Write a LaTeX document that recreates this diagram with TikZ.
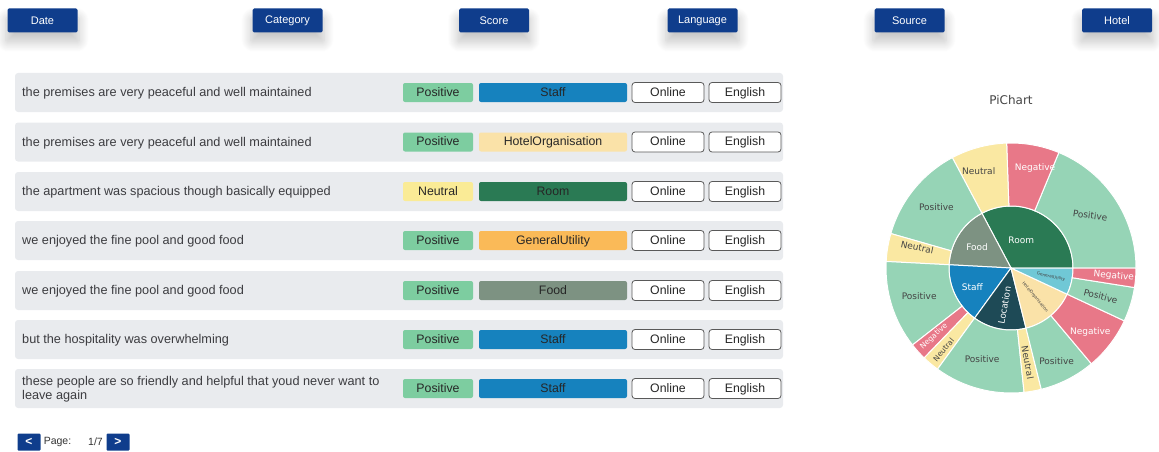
\documentclass[tikz,border=0pt]{standalone}
\usepackage{fontspec}
\setmainfont{Liberation Sans}
\newfontfamily\piefont{DejaVu Sans}
\usepackage{tikz}
\usetikzlibrary{positioning, shadows.blur}
\definecolor{navblue}{RGB}{15,61,140}
\definecolor{rowgray}{RGB}{233,235,238}
\definecolor{txtgray}{RGB}{60,60,64}
\definecolor{tagpos}{RGB}{125,205,160}
\definecolor{tagneu}{RGB}{250,235,150}
\definecolor{tagstaff}{RGB}{22,130,190}
\definecolor{taghotel}{RGB}{250,226,168}
\definecolor{tagroom}{RGB}{42,122,84}
\definecolor{tagutil}{RGB}{250,186,88}
\definecolor{tagfood}{RGB}{125,146,130}
\definecolor{piepos}{RGB}{150,212,182}
\definecolor{pieneg}{RGB}{232,120,136}
\definecolor{pieneu}{RGB}{250,232,162}
\definecolor{pieloc}{RGB}{30,74,86}
\definecolor{pieutil}{RGB}{112,200,214}
\definecolor{pietxt}{RGB}{68,68,68}

% ring slice: start, end, inner radius, outer radius, colour
\newcommand{\sunslice}[5]{%
  \fill[#5, draw=white, line width=1pt] (#1:#3pt) arc[start angle=#1, end angle=#2, radius=#3pt]
    -- (#2:#4pt) arc[start angle=#2, end angle=#1, radius=#4pt] -- cycle;}
% centre slice: start, end, radius, colour
\newcommand{\sunpie}[4]{%
  \fill[#4, draw=white, line width=1pt] (0,0) -- (#1:#3pt) arc[start angle=#1, end angle=#2, radius=#3pt] -- cycle;}

\begin{document}
\begin{tikzpicture}[
  x=1pt, y=-1pt,
  btn/.style={rectangle, rounded corners=1.5pt, fill=navblue, text=white,
              minimum width=70pt, minimum height=24pt, font=\fontsize{11}{13}\selectfont,
              blur shadow={shadow xshift=0pt, shadow yshift=-9pt, shadow scale=1.05,
                           shadow blur radius=9pt, shadow blur steps=12, shadow opacity=22}},
  rowbox/.style={rectangle, rounded corners=3pt, fill=rowgray, minimum width=768pt, minimum height=39pt},
  review/.style={anchor=west, text=txtgray, align=left, inner sep=0pt,
                 font=\fontsize{12.7}{14}\selectfont},
  tag/.style={rectangle, rounded corners=2pt, minimum height=19pt, text=black!85,
              text height=8pt, text depth=0.5pt, inner sep=0pt, font=\fontsize{12.3}{14}\selectfont},
  senti/.style={tag, minimum width=70pt},
  cat/.style={tag, minimum width=148pt},
  outl/.style={tag, rounded corners=3pt, draw=black!65, line width=0.8pt, fill=white,
               minimum width=72pt, minimum height=20pt},
  navbtn/.style={rectangle, rounded corners=1pt, fill=navblue, text=white, minimum width=23pt,
                 minimum height=17pt, inner sep=0pt, font=\fontsize{12}{14}\selectfont\bfseries},
  navtxt/.style={text=black!80, inner sep=0pt, font=\fontsize{10.5}{12}\selectfont},
  pielab/.style={text=pietxt, inner sep=0pt, font=\piefont\fontsize{9}{10}\selectfont},
  pielabw/.style={pielab, text=white},
  thinlab/.style={inner sep=0pt, font=\piefont\fontsize{7.5}{8}\selectfont},
  pietiny/.style={text=pietxt, inner sep=0pt, font=\piefont\fontsize{4.2}{5}\selectfont}
]
  \useasboundingbox (0,0) rectangle (1159,452);

  % filter buttons
  \node[btn] (date)     at (42.5,20.5)  {Date};
  \node[btn] (category) at (287.5,20.5) {Category};
  \node[btn] (score)    at (494,20.5)   {Score};
  \node[btn] (language) at (702.5,20.5) {Language};
  \node[btn] (source)   at (909.5,20.5) {Source};
  \node[btn] (hotel)    at (1117,20.5)  {Hotel};

  % review rows
  \node[rowbox] (row1) at (399,92.5)  {};
  \node[rowbox] (row2) at (399,142)   {};
  \node[rowbox] (row3) at (399,191.5) {};
  \node[rowbox] (row4) at (399,240.5) {};
  \node[rowbox] (row5) at (399,290.5) {};
  \node[rowbox] (row6) at (399,339.5) {};
  \node[rowbox] (row7) at (399,388.5) {};

  \node[review] (txt1) at (22,93.5)  {the premises are very peaceful and well maintained};
  \node[review] (txt2) at (22,143)   {the premises are very peaceful and well maintained};
  \node[review] (txt3) at (22,192.5) {the apartment was spacious though basically equipped};
  \node[review] (txt4) at (22,241.5) {we enjoyed the fine pool and good food};
  \node[review] (txt5) at (22,291.5) {we enjoyed the fine pool and good food};
  \node[review] (txt6) at (22,340.5) {but the hospitality was overwhelming};
  \node[review] (txt7) at (22,389)   {these people are so friendly and helpful that youd never want to\\leave again};

  \node[senti, fill=tagpos] (sen1) at (438,92.5)  {Positive};
  \node[senti, fill=tagpos] (sen2) at (438,142)   {Positive};
  \node[senti, fill=tagneu] (sen3) at (438,191.5) {Neutral};
  \node[senti, fill=tagpos] (sen4) at (438,240.5) {Positive};
  \node[senti, fill=tagpos] (sen5) at (438,290.5) {Positive};
  \node[senti, fill=tagpos] (sen6) at (438,339.5) {Positive};
  \node[senti, fill=tagpos] (sen7) at (438,388.5) {Positive};

  \node[cat, fill=tagstaff] (cat1) at (553,92.5)  {Staff};
  \node[cat, fill=taghotel] (cat2) at (553,142)   {HotelOrganisation};
  \node[cat, fill=tagroom]  (cat3) at (553,191.5) {Room};
  \node[cat, fill=tagutil]  (cat4) at (553,240.5) {GeneralUtility};
  \node[cat, fill=tagfood]  (cat5) at (553,290.5) {Food};
  \node[cat, fill=tagstaff] (cat6) at (553,339.5) {Staff};
  \node[cat, fill=tagstaff] (cat7) at (553,388.5) {Staff};

  \node[outl] (src1) at (668,92.5)  {Online};
  \node[outl] (src2) at (668,142)   {Online};
  \node[outl] (src3) at (668,191.5) {Online};
  \node[outl] (src4) at (668,240.5) {Online};
  \node[outl] (src5) at (668,290.5) {Online};
  \node[outl] (src6) at (668,339.5) {Online};
  \node[outl] (src7) at (668,388.5) {Online};

  \node[outl] (lang1) at (745,92.5)  {English};
  \node[outl] (lang2) at (745,142)   {English};
  \node[outl] (lang3) at (745,191.5) {English};
  \node[outl] (lang4) at (745,240.5) {English};
  \node[outl] (lang5) at (745,290.5) {English};
  \node[outl] (lang6) at (745,339.5) {English};
  \node[outl] (lang7) at (745,388.5) {English};

  % pager
  \node[navbtn] (prev) at (29,442)  {<};
  \node[navtxt] (page) at (57.5,442) {Page:};
  \node[navtxt] (pnum) at (95.5,442) {1/7};
  \node[navbtn] (next) at (118,442) {>};

  % sunburst
  \node[pielab, font=\piefont\fontsize{12}{14}\selectfont] (pietitle) at (1011,100) {PiChart};
  \begin{scope}[shift={(1011,268)}]
    \sunpie{0}{118}{62}{tagroom}
    \sunpie{118}{177}{62}{tagfood}
    \sunpie{177}{234}{62}{tagstaff}
    \sunpie{234}{284}{62}{pieloc}
    \sunpie{284}{335}{62}{taghotel}
    \sunpie{335}{360}{62}{pieutil}

    \sunslice{0}{67.5}{62}{125}{piepos}
    \sunslice{67.5}{92}{62}{125}{pieneg}
    \sunslice{92}{118}{62}{125}{pieneu}
    \sunslice{118}{164}{62}{125}{piepos}
    \sunslice{164}{177}{62}{125}{pieneu}
    \sunslice{177}{218}{62}{125}{piepos}
    \sunslice{218}{226}{62}{125}{pieneg}
    \sunslice{226}{234}{62}{125}{pieneu}
    \sunslice{234}{276}{62}{125}{piepos}
    \sunslice{276}{284}{62}{125}{pieneu}
    \sunslice{284}{310}{62}{125}{piepos}
    \sunslice{310}{335}{62}{125}{pieneg}
    \sunslice{335}{351}{62}{125}{piepos}
    \sunslice{351}{360}{62}{125}{pieneg}

    \node[pielabw] (lroom)  at (70:30pt)  {Room};
    \node[pielabw] (lfood)  at (148:40pt) {Food};
    \node[pielabw] (lstaff) at (206:43pt) {Staff};
    \node[pielabw, rotate=80] (lloc) at (260:38pt) {Location};
    \node[pietiny, rotate=-50.5] (lhotel) at (309.5:38pt) {HotelOrganisation};
    \node[pietiny, rotate=-12.5] (lutil)  at (347.5:41pt) {GeneralUtility};

    \node[pielab, rotate=-8]   (o1)  at (33.5:95pt)  {Positive};
    \node[pielabw]             (o2)  at (76.5:103pt) {Negative};
    \node[pielab]              (o3)  at (108.5:102pt) {Neutral};
    \node[pielab]              (o4)  at (141:96pt)   {Positive};
    \node[pielab, rotate=-12]  (o5)  at (167.5:96pt) {Neutral};
    \node[pielab]              (o6)  at (197:96pt)   {Positive};
    \node[thinlab, text=white, rotate=42]  (o7) at (221.5:103pt) {Negative};
    \node[thinlab, text=pietxt, rotate=50] (o8) at (230.5:106pt) {Neutral};
    \node[pielab]              (o9)  at (252.5:96pt) {Positive};
    \node[pielab, rotate=-80]  (o10) at (280:96pt)   {Neutral};
    \node[pielab]              (o11) at (296:104pt)  {Positive};
    \node[pielabw]             (o12) at (321:102pt)  {Negative};
    \node[pielab, rotate=-15]  (o13) at (342.5:94pt) {Positive};
    \node[pielabw, rotate=-5]  (o14) at (355.5:103pt) {Negative};
  \end{scope}
\end{tikzpicture}
\end{document}
